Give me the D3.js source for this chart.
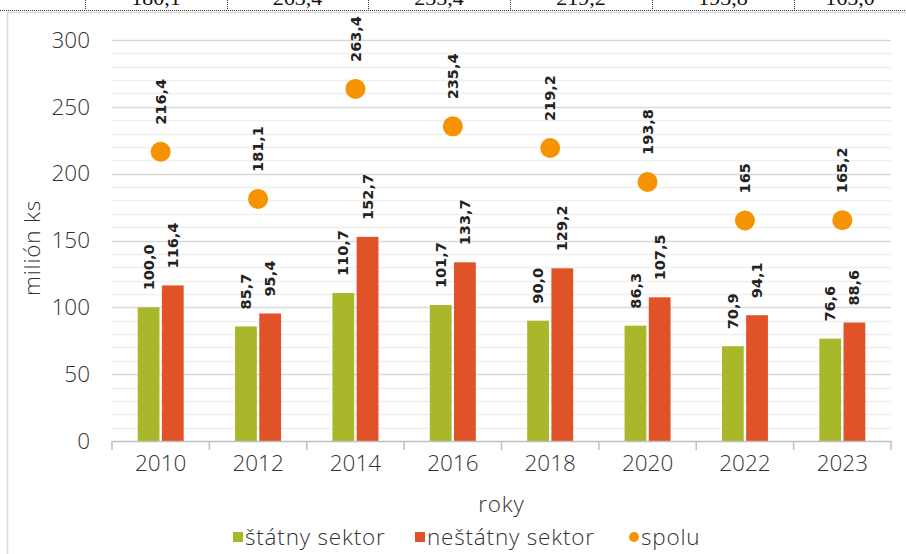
<!DOCTYPE html>
<html>
<head>
<meta charset="utf-8">
<script src="https://cdn.jsdelivr.net/npm/d3@7"></script>
<style>
  body { margin: 0; background: #fff; }
  svg { display: block; }
</style>
</head>
<body>
<div id="chart"></div>
<script>
const years = ['2010', '2012', '2014', '2016', '2018', '2020', '2022', '2023'];
const statny = [100.0, 85.7, 110.7, 101.7, 90.0, 86.3, 70.9, 76.6];
const nestatny = [116.4, 95.4, 152.7, 133.7, 129.2, 107.5, 94.1, 88.6];
const spolu = [216.4, 181.1, 263.4, 235.4, 219.2, 193.8, 165, 165.2];
const spoluLabels = ['216,4', '181,1', '263,4', '235,4', '219,2', '193,8', '165', '165,2'];
const yTicks = [0, 50, 100, 150, 200, 250, 300];
// cut-off table row above the chart
const tableRow = ['180,1', '263,4', '235,4', '219,2', '193,8', '165,0'];

const width = 906;
const height = 554;
const margin = {top: 40, bottom: 113, left: 112, right: 15};
const font = '"Open Sans", "DejaVu Sans", sans-serif';
const labelFont = '"DejaVu Sans", sans-serif';
const textColor = '#333';
const fontSize = '22.5px';

const green = '#a8b82a';
const red = '#e05328';
const orange = '#f59300';

const svg = d3.select('#chart')
  .append('svg')
  .attr('width', width)
  .attr('height', height)
  .attr('viewBox', [0, 0, width, height])
  .style('font-family', font);

// table remnant at the very top
const tableX = [85, 227, 368, 510, 652, 794, 936];
svg.append('line')
  .attr('x1', 0).attr('x2', width).attr('y1', 10.5).attr('y2', 10.5)
  .attr('stroke', '#333').attr('stroke-dasharray', '1,1');
svg.append('g')
  .selectAll('line')
  .data(tableX.slice(0, 6))
  .join('line')
    .attr('x1', d => d + 0.5).attr('x2', d => d + 0.5)
    .attr('y1', 0).attr('y2', 10)
    .attr('stroke', '#333').attr('stroke-dasharray', '1,1');
svg.append('g')
  .selectAll('text')
  .data(tableRow)
  .join('text')
    .attr('x', (d, i) => (tableX[i] + tableX[i + 1]) / 2 - (i == 5 ? 15 : 0))
    .attr('y', 5)
    .attr('text-anchor', 'middle')
    .attr('font-family', '"Liberation Serif", serif')
    .attr('font-size', '22px')
    .attr('fill', '#111')
    .text(d => d);

// chart frame
svg.append('rect')
  .attr('x', 7.5).attr('y', 12.5)
  .attr('width', width).attr('height', height)
  .attr('fill', 'none')
  .attr('stroke', '#d9d9d9')
  .attr('stroke-width', 1.5);

const x = d3.scaleBand()
  .domain(years)
  .range([margin.left, width - margin.right]);

const x1 = d3.scaleBand()
  .domain(['statny', 'nestatny'])
  .range([-23, 23])
  .paddingInner(0.1);

const y = d3.scaleLinear()
  .domain([0, 300])
  .range([height - margin.bottom, margin.top]);

// gridlines: minor every 10, major every 50
svg.append('g')
  .selectAll('line')
  .data(d3.range(10, 301, 10).filter(v => v % 50 != 0))
  .join('line')
    .attr('x1', margin.left).attr('x2', width - margin.right)
    .attr('y1', d => Math.round(y(d)) + 0.5).attr('y2', d => Math.round(y(d)) + 0.5)
    .attr('stroke', '#efefef').attr('stroke-width', 1.5);
svg.append('g')
  .selectAll('line')
  .data(yTicks.slice(1))
  .join('line')
    .attr('x1', margin.left).attr('x2', width - margin.right)
    .attr('y1', d => Math.round(y(d)) + 0.5).attr('y2', d => Math.round(y(d)) + 0.5)
    .attr('stroke', '#d9d9d9').attr('stroke-width', 1.5);

const rows = years.map((yr, i) => ({year: yr, statny: statny[i], nestatny: nestatny[i]}));

// bars
const groups = svg.append('g')
  .selectAll('g')
  .data(rows)
  .join('g')
    .attr('transform', d => `translate(${x(d.year) + x.bandwidth() / 2},0)`);

groups.selectAll('rect')
  .data(d => ['statny', 'nestatny'].map(k => ({key: k, value: d[k]})))
  .join('rect')
    .attr('x', d => x1(d.key))
    .attr('y', d => y(d.value))
    .attr('width', x1.bandwidth())
    .attr('height', d => y(0) - y(d.value))
    .attr('fill', d => d.key == 'statny' ? green : red);

groups.selectAll('text')
  .data(d => ['statny', 'nestatny'].map(k => ({key: k, value: d[k]})))
  .join('text')
    .attr('transform', d => `translate(${x1(d.key) + x1.bandwidth() / 2},${y(d.value) - 17}) rotate(-90)`)
    .attr('dy', '0.35em')
    .attr('font-family', labelFont)
    .attr('font-size', '14.5px')
    .attr('font-weight', 'bold')
    .attr('fill', '#222')
    .text(d => d.value.toFixed(1).replace('.', ','));

// totals as dots
svg.append('g')
  .selectAll('circle')
  .data(spolu)
  .join('circle')
    .attr('cx', (d, i) => x(years[i]) + x.bandwidth() / 2)
    .attr('cy', d => y(d))
    .attr('r', 10)
    .attr('fill', orange);

svg.append('g')
  .selectAll('text')
  .data(spolu)
  .join('text')
    .attr('transform', (d, i) => `translate(${x(years[i]) + x.bandwidth() / 2},${y(d) - 27}) rotate(-90)`)
    .attr('dy', '0.35em')
    .attr('font-family', labelFont)
    .attr('font-size', '14.5px')
    .attr('font-weight', 'bold')
    .attr('fill', '#222')
    .text((d, i) => spoluLabels[i]);

// axes
function xAxis(g) {
  g.attr('transform', `translate(0,${y(0)})`)
    .call(d3.axisBottom(x).tickSize(0).tickPadding(14));
  g.select('.domain').attr('stroke', '#bfbfbf').attr('stroke-width', 1.5);
  g.selectAll('text').attr('font-size', fontSize).attr('font-weight', 300)
    .attr('fill', textColor).attr('font-family', font);
  g.selectAll('.sep')
    .data(d3.range(years.length + 1))
    .join('line')
      .attr('class', 'sep')
      .attr('x1', i => x.range()[0] + i * x.step())
      .attr('x2', i => x.range()[0] + i * x.step())
      .attr('y1', 0).attr('y2', 9)
      .attr('stroke', '#bfbfbf').attr('stroke-width', 1.5);
}

function yAxis(g) {
  g.attr('transform', `translate(${margin.left},0)`)
    .call(d3.axisLeft(y).tickValues(yTicks).tickSize(0).tickPadding(22));
  g.select('.domain').remove();
  g.selectAll('text').attr('font-size', fontSize).attr('font-weight', 300)
    .attr('fill', textColor).attr('font-family', font);
}

svg.append('g').call(xAxis);
svg.append('g').call(yAxis);

// axis titles
svg.append('text')
  .attr('x', (margin.left + width - margin.right) / 2)
  .attr('y', 512)
  .attr('text-anchor', 'middle')
  .attr('font-size', fontSize)
  .attr('font-weight', 300)
  .attr('letter-spacing', '0.8px')
  .attr('fill', textColor)
  .text('roky');

svg.append('text')
  .attr('transform', `translate(40,248) rotate(-90)`)
  .attr('text-anchor', 'middle')
  .attr('font-size', fontSize)
  .attr('font-weight', 300)
  .attr('letter-spacing', '0.8px')
  .attr('fill', textColor)
  .text('milión ks');

// legend
const legend = [
  {name: 'štátny sektor', color: green, shape: 'rect', x: 233},
  {name: 'neštátny sektor', color: red, shape: 'rect', x: 415},
  {name: 'spolu', color: orange, shape: 'circle', x: 629}
];
const lg = svg.append('g')
  .selectAll('g')
  .data(legend)
  .join('g')
    .attr('transform', d => `translate(${d.x},537)`);
lg.filter(d => d.shape == 'rect').append('rect')
  .attr('x', 0).attr('y', -5).attr('width', 10).attr('height', 10)
  .attr('fill', d => d.color);
lg.filter(d => d.shape == 'circle').append('circle')
  .attr('cx', 5).attr('cy', 0).attr('r', 5)
  .attr('fill', d => d.color);
lg.append('text')
  .attr('x', 12)
  .attr('dy', '0.35em')
  .attr('font-size', fontSize)
  .attr('font-weight', 300)
  .attr('letter-spacing', '0.8px')
  .attr('fill', textColor)
  .text(d => d.name);
</script>
</body>
</html>
